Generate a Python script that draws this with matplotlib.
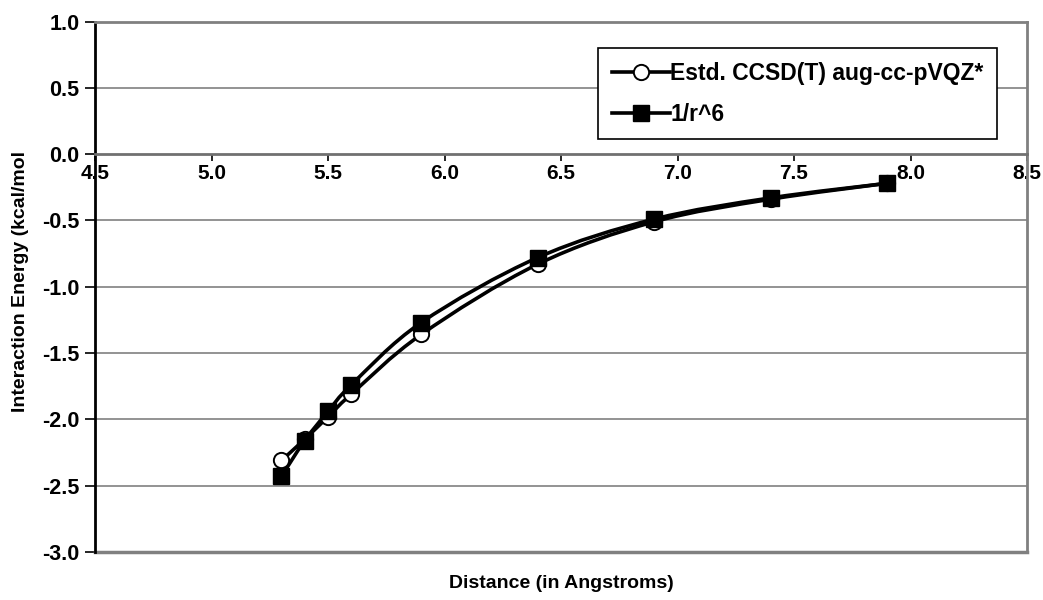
import matplotlib
matplotlib.use("Agg")
import matplotlib.pyplot as plt
from matplotlib.path import Path
from matplotlib.patches import PathPatch
from matplotlib.lines import Line2D

plt.rcParams['font.family'] = ['Liberation Sans', 'DejaVu Sans']
plt.rcParams['font.weight'] = 'bold'

# Separations (Angstrom) and interaction energies (kcal/mol)
distance = [5.3, 5.4, 5.5, 5.6, 5.9, 6.4, 6.9, 7.4, 7.9]
ccsd_t = [-2.31, -2.15, -1.98, -1.81, -1.36, -0.83, -0.51, -0.34, -0.22]
inv_r6 = [-2.43, -2.16, -1.94, -1.74, -1.27, -0.78, -0.49, -0.33, -0.22]

series_labels = ["Estd. CCSD(T) aug-cc-pVQZ*", "1/r^6"]
x_ticks = [4.5, 5.0, 5.5, 6.0, 6.5, 7.0, 7.5, 8.0, 8.5]
y_ticks = [1.0, 0.5, 0.0, -0.5, -1.0, -1.5, -2.0, -2.5, -3.0]


def smooth_path(xs, ys):
    """Bezier path through the points with Catmull-Rom style control handles."""
    pts = list(zip(xs, ys))
    verts = [pts[0]]
    codes = [Path.MOVETO]
    n = len(pts)
    for i in range(n - 1):
        p0 = pts[i - 1] if i > 0 else pts[i]
        p1 = pts[i]
        p2 = pts[i + 1]
        p3 = pts[i + 2] if i + 2 < n else pts[i + 1]
        c1 = (p1[0] + (p2[0] - p0[0]) / 6, p1[1] + (p2[1] - p0[1]) / 6)
        c2 = (p2[0] - (p3[0] - p1[0]) / 6, p2[1] - (p3[1] - p1[1]) / 6)
        verts += [c1, c2, p2]
        codes += [Path.CURVE4] * 3
    return Path(verts, codes)


fig = plt.figure(figsize=(10.43, 6.0), dpi=100)
ax = fig.add_axes([95 / 1043, 1 - 552 / 600, (1027 - 95) / 1043, (552 - 21.5) / 600])

ax.set_xlim(4.5, 8.5)
ax.set_ylim(-3.0, 1.0)

for y in y_ticks:
    if y not in (1.0, 0.0, -3.0):
        ax.axhline(y, color='#808080', lw=1.2, zorder=1)

line_w = 2.6
styles = [
    dict(marker='o', ms=11, mfc='white', mec='black', mew=1.4),
    dict(marker='s', ms=11, mfc='black', mec='black', mew=1.0),
]
handles = []
for vals, st, lab in zip([ccsd_t, inv_r6], styles, series_labels):
    ax.add_patch(PathPatch(smooth_path(distance, vals), fill=False,
                           lw=line_w, edgecolor='black', zorder=3,
                           capstyle='round', joinstyle='round'))
    ax.plot(distance, vals, linestyle='none', zorder=4, **st)
    handles.append(Line2D([], [], color='black', lw=line_w, label=lab, **st))

# Frame: grey box, black value axis, category axis crossing at zero
for side in ('top', 'right'):
    ax.spines[side].set_color('#808080')
    ax.spines[side].set_linewidth(2)
ax.spines['left'].set_color('black')
ax.spines['left'].set_linewidth(2)
ax.spines['bottom'].set_position(('data', 0))
ax.spines['bottom'].set_color('#707070')
ax.spines['bottom'].set_linewidth(2)
ax.axhline(-3.0, color='#808080', lw=2.5, zorder=2, clip_on=False)

ax.set_xticks(x_ticks)
ax.set_xticklabels([f"{v:.1f}" for v in x_ticks])
ax.set_yticks(y_ticks)
ax.set_yticklabels([f"{v:.1f}" for v in y_ticks])
ax.tick_params(axis='x', direction='out', length=5, width=1.2, pad=2,
               labelsize=15, color='black')
ax.tick_params(axis='y', direction='out', length=7, width=1.2, pad=4,
               labelsize=15.5, color='black')
for t in ax.get_xticklabels() + ax.get_yticklabels():
    t.set_fontweight('bold')

ax.set_ylabel("Interaction Energy (kcal/mol", fontsize=14, fontweight='bold')
ax.yaxis.set_label_coords(-0.071, 0.51)
fig.text(561 / 1043, 1 - 583 / 600, "Distance (in Angstroms)", ha='center', va='center',
         fontsize=14, fontweight='bold')

leg = ax.legend(handles=handles, loc='upper left', bbox_to_anchor=(0.540, 0.950),
                borderaxespad=0, frameon=True, fancybox=False, edgecolor='black',
                framealpha=1, handlelength=2.55, handletextpad=0.0, borderpad=0.6,
                labelspacing=0.78, prop=dict(size=16.5, weight='bold'))
leg.get_frame().set_linewidth(1.2)
leg.set_zorder(5)

fig.savefig("out.png", dpi=100)
